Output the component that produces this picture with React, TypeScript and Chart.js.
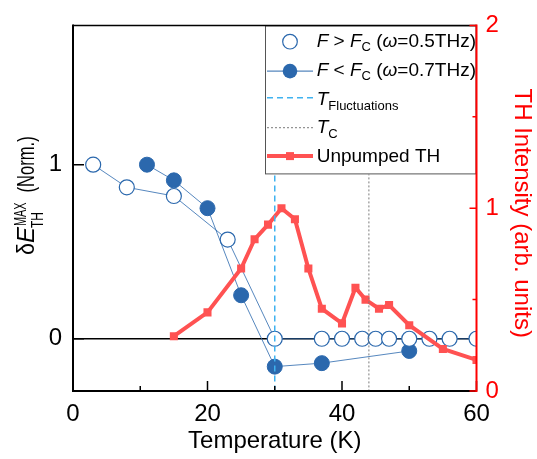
import { useEffect, useRef } from 'react';
import { Chart, registerables } from 'chart.js';
Chart.register(...registerables);

// ---- data ----
const openT = [3, 8, 15, 23, 30, 37, 40, 43, 45, 47, 50, 53, 56, 60];
const openV = [1.0, 0.87, 0.82, 0.57, 0, 0, 0, 0, 0, 0, 0, 0, 0, 0];
const filledT = [11, 15, 20, 25, 30, 37, 50];
const filledV = [1.0, 0.91, 0.75, 0.25, -0.16, -0.14, -0.07];
const thT = [15, 20, 25, 27, 29, 31, 33, 35, 37, 40, 42, 43.5, 45.5, 47, 50, 55, 60];
const thV = [0.3, 0.43, 0.67, 0.83, 0.91, 1.0, 0.94, 0.67, 0.45, 0.37, 0.565, 0.5, 0.45, 0.47, 0.36, 0.23, 0.17];
const xTicks = [0, 20, 40, 60];
const xMinorTicks = [10, 30, 50];
const leftTicks = [0, 1];
const rightTicks = [0, 1, 2];
const rightMinorTicks = [0.5, 1.5];
const tFluct = 30;
const tC = 44;

const FONT = "'Liberation Sans', Arial, sans-serif";
const BLUE = '#2b68ad';
const RED_LINE = '#ff5252';
const RED_AXIS = '#ff0000';

type Seg = { t: string; size: number; italic?: boolean; dy?: number; sx?: number; after?: number; back?: number };

function drawRich(ctx: CanvasRenderingContext2D, x: number, y: number, segs: Seg[]) {
  let cx = x;
  for (const s of segs) {
    ctx.font = `${s.italic ? 'italic ' : ''}${s.size}px ${FONT}`;
    const sx = s.sx ?? 1;
    cx -= s.back ?? 0;
    ctx.save();
    ctx.translate(cx, y + (s.dy ?? 0));
    ctx.scale(sx, 1);
    ctx.fillText(s.t, 0, 0);
    ctx.restore();
    cx += ctx.measureText(s.t).width * sx + (s.after ?? 0);
  }
  return cx;
}

const decor = {
  id: 'decor',
  beforeDatasetsDraw(chart: any) {
    const { ctx, chartArea: ca, scales } = chart;
    const y0 = scales.y.getPixelForValue(0);
    ctx.save();
    ctx.strokeStyle = '#000';
    ctx.lineWidth = 1.5;
    ctx.beginPath();
    ctx.moveTo(ca.left, y0);
    ctx.lineTo(ca.right, y0);
    ctx.stroke();
    ctx.restore();
  },
  afterDatasetsDraw(chart: any) {
    const { ctx, chartArea: ca, scales } = chart;
    const xs = scales.x, ys = scales.y, y2 = scales.y2;
    ctx.save();
    // vertical reference lines
    const xf = xs.getPixelForValue(tFluct);
    ctx.strokeStyle = '#3fb2f0';
    ctx.lineWidth = 1.5;
    ctx.setLineDash([6, 4]);
    ctx.beginPath();
    ctx.moveTo(xf, ca.top);
    ctx.lineTo(xf, ca.bottom);
    ctx.stroke();
    const xc = xs.getPixelForValue(tC);
    ctx.strokeStyle = '#7a7a7a';
    ctx.lineWidth = 1;
    ctx.setLineDash([2, 2]);
    ctx.beginPath();
    ctx.moveTo(xc, ca.top);
    ctx.lineTo(xc, ca.bottom);
    ctx.stroke();
    ctx.setLineDash([]);

    // legend
    const lw = 211.5, lh = 149;
    const lx = ca.right - lw, ly = ca.top;
    ctx.fillStyle = '#fff';
    ctx.fillRect(lx, ly, lw, lh);
    ctx.strokeStyle = '#555';
    ctx.lineWidth = 1;
    ctx.strokeRect(lx + 0.5, ly + 0.5, lw - 1, lh - 1);
    const s0 = lx + 2, s1 = lx + 48, sc = lx + 25, tx = lx + 51.7;
    // row 1
    ctx.beginPath();
    ctx.arc(sc, ly + 16.3, 7.3, 0, Math.PI * 2);
    ctx.fillStyle = '#fff';
    ctx.fill();
    ctx.strokeStyle = BLUE;
    ctx.lineWidth = 1.2;
    ctx.stroke();
    // row 2
    ctx.strokeStyle = BLUE;
    ctx.lineWidth = 1;
    ctx.beginPath();
    ctx.moveTo(s0, ly + 45.7);
    ctx.lineTo(s1, ly + 45.7);
    ctx.stroke();
    ctx.beginPath();
    ctx.arc(sc, ly + 45.7, 7.3, 0, Math.PI * 2);
    ctx.fillStyle = BLUE;
    ctx.fill();
    // row 3
    ctx.strokeStyle = '#3fb2f0';
    ctx.lineWidth = 1.5;
    ctx.setLineDash([6, 4]);
    ctx.beginPath();
    ctx.moveTo(s0, ly + 72.3);
    ctx.lineTo(s1, ly + 72.3);
    ctx.stroke();
    // row 4
    ctx.strokeStyle = '#7a7a7a';
    ctx.lineWidth = 1;
    ctx.setLineDash([2, 2]);
    ctx.beginPath();
    ctx.moveTo(s0, ly + 102.3);
    ctx.lineTo(s1, ly + 102.3);
    ctx.stroke();
    ctx.setLineDash([]);
    // row 5
    ctx.strokeStyle = RED_LINE;
    ctx.lineWidth = 4;
    ctx.beginPath();
    ctx.moveTo(s0, ly + 130.7);
    ctx.lineTo(s1, ly + 130.7);
    ctx.stroke();
    ctx.fillStyle = RED_LINE;
    ctx.fillRect(sc - 4, ly + 130.7 - 4, 8, 8);

    ctx.fillStyle = '#000';
    ctx.textAlign = 'left';
    ctx.textBaseline = 'alphabetic';
    const L = 19, S = 13;
    drawRich(ctx, tx, ly + 22, [
      { t: 'F', size: L, italic: true },
      { t: ' > ', size: L },
      { t: 'F', size: L, italic: true },
      { t: 'C', size: S, dy: 4 },
      { t: ' (', size: L },
      { t: 'ω', size: L, italic: true },
      { t: '=0.5THz)', size: L },
    ]);
    drawRich(ctx, tx, ly + 50.7, [
      { t: 'F', size: L, italic: true },
      { t: ' < ', size: L },
      { t: 'F', size: L, italic: true },
      { t: 'C', size: S, dy: 4 },
      { t: ' (', size: L },
      { t: 'ω', size: L, italic: true },
      { t: '=0.7THz)', size: L },
    ]);
    drawRich(ctx, tx, ly + 79.3, [
      { t: 'T', size: L, italic: true },
      { t: 'Fluctuations', size: S, dy: 5 },
    ]);
    drawRich(ctx, tx, ly + 108, [
      { t: 'T', size: L, italic: true },
      { t: 'C', size: S, dy: 5 },
    ]);
    drawRich(ctx, tx, ly + 136.7, [{ t: 'Unpumped TH', size: L }]);

    // frame
    ctx.lineCap = 'butt';
    ctx.strokeStyle = '#000';
    ctx.lineWidth = 1.5;
    ctx.beginPath();
    ctx.moveTo(ca.left, ca.top);
    ctx.lineTo(ca.right, ca.top);
    ctx.stroke();
    ctx.lineWidth = 2;
    ctx.beginPath();
    ctx.moveTo(ca.left, ca.top - 1);
    ctx.lineTo(ca.left, ca.bottom + 1);
    ctx.moveTo(ca.left - 1, ca.bottom);
    ctx.lineTo(ca.right, ca.bottom);
    ctx.stroke();
    // bottom ticks
    ctx.lineWidth = 1.5;
    ctx.beginPath();
    for (const v of xTicks) {
      const p = xs.getPixelForValue(v);
      ctx.moveTo(p, ca.bottom);
      ctx.lineTo(p, ca.bottom - 10);
    }
    for (const v of xMinorTicks) {
      const p = xs.getPixelForValue(v);
      ctx.moveTo(p, ca.bottom);
      ctx.lineTo(p, ca.bottom - 5);
    }
    for (const v of leftTicks) {
      const p = ys.getPixelForValue(v);
      ctx.moveTo(ca.left, p);
      ctx.lineTo(ca.left + 11, p);
    }
    ctx.stroke();
    // right axis
    ctx.strokeStyle = RED_AXIS;
    ctx.lineWidth = 2;
    ctx.beginPath();
    ctx.moveTo(ca.right, ca.top - 1);
    ctx.lineTo(ca.right, ca.bottom + 1);
    ctx.stroke();
    ctx.lineWidth = 1.5;
    ctx.beginPath();
    for (const v of rightTicks) {
      const p = y2.getPixelForValue(v);
      ctx.moveTo(ca.right, p);
      ctx.lineTo(ca.right - 7, p);
    }
    for (const v of rightMinorTicks) {
      const p = y2.getPixelForValue(v);
      ctx.moveTo(ca.right, p);
      ctx.lineTo(ca.right - 4, p);
    }
    ctx.stroke();

    // axis titles
    ctx.fillStyle = '#000';
    ctx.font = `24px ${FONT}`;
    ctx.textAlign = 'center';
    ctx.fillText('Temperature (K)', (ca.left + ca.right) / 2, 448);

    ctx.save();
    ctx.translate(515, (ca.top + ca.bottom) / 2 + 5);
    ctx.rotate(Math.PI / 2);
    ctx.fillStyle = RED_AXIS;
    ctx.textAlign = 'center';
    ctx.fillText('TH Intensity (arb. units)', 0, 0);
    ctx.restore();

    ctx.save();
    ctx.translate(34, 255);
    ctx.rotate(-Math.PI / 2);
    ctx.fillStyle = '#000';
    ctx.textAlign = 'left';
    let cx = drawRich(ctx, 0, 0, [
      { t: 'δ', size: 24, sx: 0.9 },
      { t: 'E', size: 24, italic: true },
    ]);
    ctx.font = `16px ${FONT}`;
    drawRich(ctx, cx - 1, 9, [{ t: 'TH', size: 16, sx: 0.75 }]);
    cx = drawRich(ctx, cx + 1, -8, [{ t: 'MAX', size: 16, sx: 0.68 }]);
    drawRich(ctx, cx + 10, 0, [{ t: '(Norm.)', size: 24, sx: 0.69 }]);
    ctx.restore();

    ctx.restore();
  },
};

export default function App() {
  const ref = useRef<HTMLCanvasElement | null>(null);
  useEffect(() => {
    document.body.style.margin = '0';
    const canvas = ref.current!;
    const tickFont = { size: 24, family: FONT };
    const chart = new Chart(canvas, {
      type: 'line',
      data: {
        datasets: [
          {
            label: 'Unpumped TH',
            data: thT.map((t, i) => ({ x: t, y: thV[i] })),
            yAxisID: 'y2',
            borderColor: RED_LINE,
            borderWidth: 4,
            pointStyle: 'rect',
            pointRadius: 5.7,
            pointBorderWidth: 0,
            pointBackgroundColor: RED_LINE,
            tension: 0,
            order: 0,
          },
          {
            label: 'F > Fc',
            data: openT.map((t, i) => ({ x: t, y: openV[i] })),
            yAxisID: 'y',
            borderColor: BLUE,
            borderWidth: 0.8,
            pointStyle: 'circle',
            pointRadius: 7.5,
            pointBorderWidth: 1.2,
            pointBackgroundColor: '#fff',
            pointBorderColor: BLUE,
            tension: 0,
            order: 1,
          },
          {
            label: 'F < Fc',
            data: filledT.map((t, i) => ({ x: t, y: filledV[i] })),
            yAxisID: 'y',
            borderColor: BLUE,
            borderWidth: 0.8,
            pointStyle: 'circle',
            pointRadius: 7.5,
            pointBorderWidth: 1,
            pointBackgroundColor: BLUE,
            pointBorderColor: BLUE,
            tension: 0,
            order: 2,
          },
        ],
      },
      options: {
        animation: false,
        responsive: false,
        devicePixelRatio: 1,
        layout: { padding: { top: 16, left: 0, right: 0, bottom: 0 } },
        plugins: { legend: { display: false }, tooltip: { enabled: false } },
        scales: {
          x: {
            type: 'linear',
            position: 'bottom',
            min: 0,
            max: 60,
            afterBuildTicks: (s: any) => {
              s.ticks = xTicks.map((v) => ({ value: v }));
            },
            ticks: { font: tickFont, color: '#000', padding: 9, maxRotation: 0, autoSkip: false },
            grid: { display: false, drawTicks: false },
            border: { display: false },
            afterFit: (s: any) => {
              s.height = 68;
            },
          },
          y: {
            type: 'linear',
            position: 'left',
            min: -0.3,
            max: 1.8,
            afterBuildTicks: (s: any) => {
              s.ticks = leftTicks.map((v) => ({ value: v }));
            },
            ticks: { font: tickFont, color: '#000', padding: 11, callback: (v: any) => String(v) },
            grid: { display: false, drawTicks: false },
            border: { display: false },
            afterFit: (s: any) => {
              s.width = 73;
            },
          },
          y2: {
            type: 'linear',
            position: 'right',
            min: 0,
            max: 2,
            afterBuildTicks: (s: any) => {
              s.ticks = rightTicks.map((v) => ({ value: v }));
            },
            ticks: { font: tickFont, color: RED_AXIS, padding: 9, callback: (v: any) => String(v) },
            grid: { display: false, drawTicks: false },
            border: { display: false },
            afterFit: (s: any) => {
              s.width = 60.5;
            },
          },
        },
      },
      plugins: [decor],
    });
    return () => chart.destroy();
  }, []);
  return (
    <div style={{ position: 'absolute', left: 0, top: 0, width: 537, height: 459, background: '#fff' }}>
      <canvas ref={ref} width={537} height={459} style={{ width: 537, height: 459 }} />
    </div>
  );
}
